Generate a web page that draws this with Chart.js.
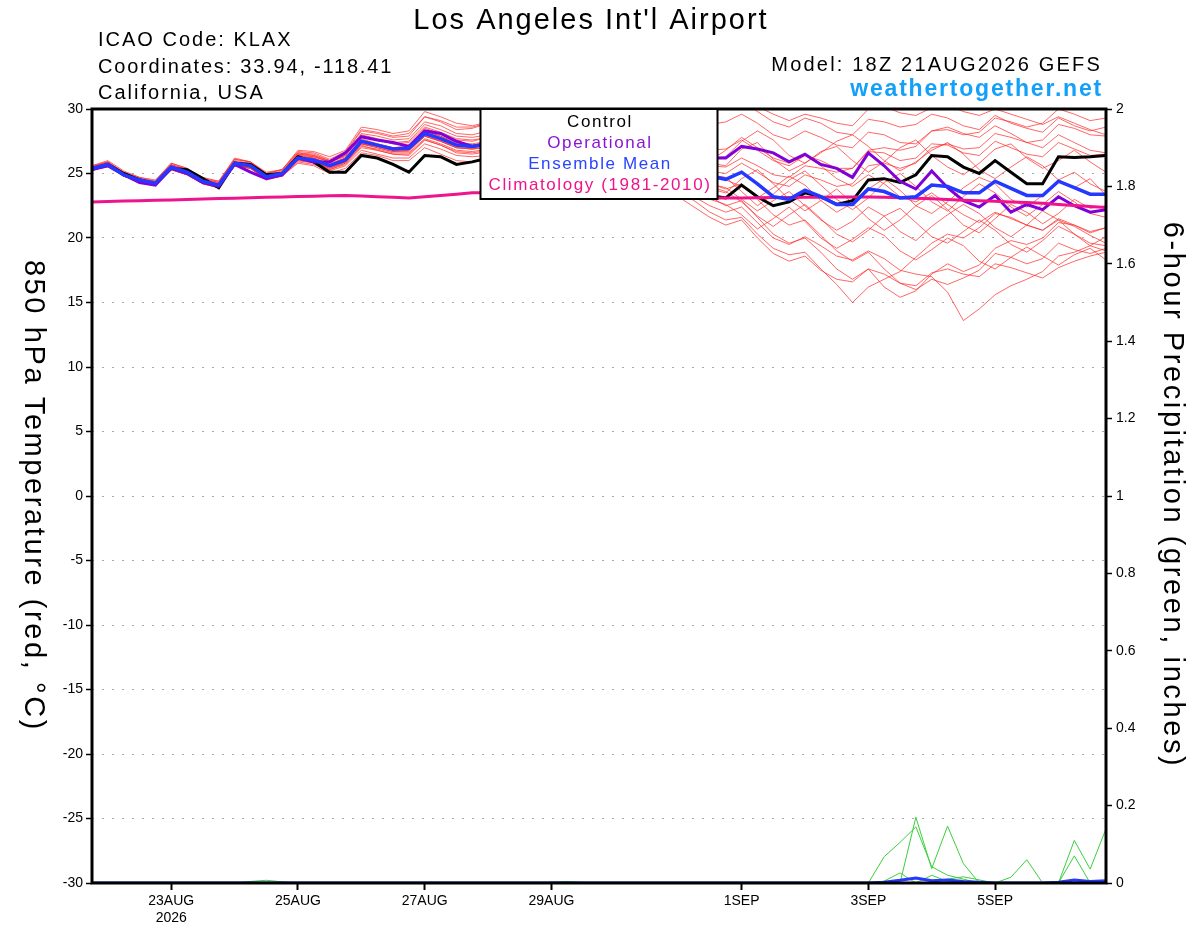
<!DOCTYPE html>
<html>
<head>
<meta charset="utf-8">
<title>KLAX GEFS 850 hPa Temperature</title>
<script src="https://cdn.jsdelivr.net/npm/chart.js@4.4.1/dist/chart.umd.min.js"></script>
<style>
  html, body { margin: 0; padding: 0; background: #fff; }
  canvas { display: block; }
</style>
</head>
<body>
<canvas id="meteogram" width="1200" height="927"></canvas>
<script>
// --- DATA (6-hourly from 18Z 21AUG2026, forecast hour = index * 6) ---
const STEP_HOURS = 6;
const tickHours = [30, 78, 126, 174, 246, 294, 342];
const tickLabels = [['23AUG', '2026'], '25AUG', '27AUG', '29AUG', '1SEP', '3SEP', '5SEP'];

const control = [
  25.3, 25.7, 25.0, 24.5, 24.2, 25.4, 25.3, 24.6, 23.9, 25.8, 25.7, 24.9, 25.0,
  26.3, 25.9, 25.1, 25.1, 26.4, 26.2, 25.7, 25.1, 26.4, 26.3, 25.7, 25.9,
  26.2, 26.6, 26.3, 27.0, 26.8, 26.0, 26.5, 25.8, 25.2, 24.6, 24.0, 23.5, 23.6, 23.6, 23.3,
  23.1, 24.1, 23.2, 22.5, 22.8, 23.5, 23.2, 22.6, 22.9, 24.5, 24.6, 24.3, 24.9,
  26.4, 26.3, 25.5, 25.0, 26.0, 25.1, 24.2, 24.2, 26.3, 26.25, 26.3, 26.4
];
const operational = [
  25.3, 25.6, 24.9, 24.3, 24.1, 25.4, 25.0, 24.3, 24.0, 25.7, 25.1, 24.6, 24.9,
  26.2, 25.9, 25.9, 26.6, 27.85, 27.6, 27.4, 27.1, 28.3, 28.1, 27.5, 27.1,
  27.3, 27.6, 28.2, 28.6, 28.0, 27.8, 28.3, 27.6, 27.0, 26.8, 27.2, 26.6, 26.4, 26.5, 26.2,
  26.2, 27.1, 26.9, 26.6, 25.9, 26.5, 25.7, 25.4, 24.7, 26.6, 25.6, 24.4, 23.8,
  25.2, 23.9, 22.9, 22.4, 23.3, 22.0, 22.6, 22.2, 23.2, 22.5, 22.0, 22.2
];
const ensMean = [
  25.4, 25.7, 24.9, 24.5, 24.25, 25.5, 25.1, 24.4, 24.1, 25.8, 25.6, 24.75, 25.0,
  26.2, 26.05, 25.6, 26.05, 27.5, 27.2, 26.9, 26.95, 28.1, 27.7, 27.2, 27.1,
  27.3, 27.6, 27.4, 28.0, 27.8, 27.2, 27.6, 27.0, 26.4, 26.0, 26.3, 25.8, 25.5, 25.2, 24.8,
  24.55, 25.1, 24.2, 23.2, 23.0, 23.7, 23.2, 22.6, 22.6, 23.8, 23.6, 23.1, 23.2,
  24.1, 24.0, 23.5, 23.5, 24.4, 23.85, 23.3, 23.3, 24.4, 23.9, 23.4, 23.4
];
const climatology = [
  22.80, 22.83, 22.86, 22.89, 22.92, 22.95, 22.98, 23.02, 23.06, 23.09, 23.12, 23.15, 23.18,
  23.21, 23.24, 23.27, 23.30, 23.25, 23.20, 23.15, 23.10, 23.20, 23.30, 23.40, 23.50,
  23.50, 23.48, 23.46, 23.44, 23.42, 23.40, 23.37, 23.34, 23.31, 23.28, 23.25, 23.22, 23.18, 23.14, 23.10,
  23.10, 23.11, 23.12, 23.13, 23.14, 23.15, 23.16, 23.17, 23.18, 23.18, 23.15, 23.12, 23.08,
  23.04, 22.98, 22.92, 22.88, 22.84, 22.80, 22.75, 22.70, 22.60, 22.52, 22.44, 22.36
];

// ensemble members, 850 hPa temperature (C)
const mem01 = [25.5,25.9,25.1,24.6,24.4,25.7,25.3,24.6,24.3,26.1,25.9,25.0,25.3,
  26.6,26.5,26.0,26.6,28.3,28.1,27.8,27.9,29.4,29.0,28.4,28.5,
  28.9,29.3,29.0,29.8,29.5,29.0,29.6,29.1,28.6,28.4,28.8,28.5,28.9,29.4,29.8,
  30.2,30.6,29.8,29.0,28.6,29.3,28.9,28.2,28.0,29.2,29.0,28.6,28.8,29.6,29.3,28.7,28.4,29.5,28.9,28.5,28.2,29.3,28.7,28.3,28.6];
const mem02 = [25.3,25.6,24.8,24.3,24.1,25.3,24.9,24.2,23.9,25.6,25.4,24.5,24.8,
  25.8,25.6,25.0,25.4,26.6,26.4,26.0,26.0,27.0,26.5,26.0,25.9,
  26.0,26.3,26.0,26.5,26.2,25.5,25.8,25.1,24.6,24.2,24.5,24.0,23.6,23.2,22.5,
  22.0,22.4,21.2,20.0,19.5,20.1,19.4,18.6,18.3,19.0,18.4,17.5,17.2,17.0,15.8,13.6,14.5,15.6,16.3,16.8,17.4,18.6,18.9,19.4,20.1];
const mem03 = [25.4,25.8,25.0,24.6,24.3,25.6,25.2,24.3,24.0,25.9,25.7,24.8,25.1,
  26.1,25.9,25.3,25.8,27.2,26.8,26.5,26.4,27.6,27.2,26.6,26.5,
  26.7,27.0,26.6,27.2,26.9,26.2,26.5,25.8,25.1,24.6,24.8,24.1,23.5,22.9,22.0,
  21.4,21.6,20.3,19.2,18.7,18.9,17.6,16.4,15.0,16.2,16.8,17.4,18.5,19.6,20.3,20.0,20.8,21.9,21.6,21.0,20.6,21.5,21.0,20.5,20.8];
const mem04 = [25.6,25.9,25.1,24.7,24.5,25.8,25.4,24.6,24.4,26.2,25.9,25.1,25.3,
  26.8,26.7,26.3,26.8,28.6,28.4,28.1,28.3,29.8,29.4,28.9,28.7,
  29.0,29.5,29.3,30.0,29.8,29.3,29.8,29.4,28.9,28.6,29.0,28.8,29.3,29.6,30.1,
  30.4,30.8,30.2,29.6,29.1,29.6,29.3,28.9,28.7,30.0,30.2,29.7,29.5,30.1,30.3,29.8,29.5,30.0,29.6,29.2,28.8,29.4,28.9,28.4,28.0];
const mem05 = [25.3,25.7,24.8,24.4,24.2,25.4,25.0,24.3,24.0,25.7,25.5,24.7,24.9,
  26.4,26.3,25.9,26.3,27.8,27.6,27.3,27.2,28.5,28.1,27.6,27.5,
  27.8,28.1,27.9,28.5,28.3,27.8,28.2,27.6,27.1,26.7,27.0,26.6,26.3,26.1,25.8,
  25.6,26.9,27.4,26.1,25.2,25.8,26.7,27.1,26.0,25.1,25.9,27.0,27.6,26.4,25.5,24.9,25.8,26.9,27.3,26.2,25.4,26.0,26.8,25.9,25.1];
const mem06 = [25.4,25.6,24.9,24.5,24.3,25.5,25.1,24.5,24.2,25.8,25.5,24.8,25.0,
  26.1,25.9,25.4,25.9,27.3,27.0,26.7,26.8,27.9,27.5,27.0,26.9,
  27.0,27.2,26.9,27.4,27.1,26.5,26.8,26.2,25.5,25.0,25.2,24.6,24.1,23.6,23.0,
  22.6,21.8,20.7,21.5,22.4,21.3,20.0,19.2,19.9,20.8,20.2,19.0,18.3,19.1,20.0,19.4,18.2,17.6,18.5,19.3,18.6,17.9,18.7,19.2,18.3];
const mem07 = [25.5,25.8,24.9,24.4,24.2,25.5,25.2,24.5,24.2,25.9,25.6,24.8,25.0,
  26.3,26.2,25.7,26.2,27.7,27.3,27.0,27.1,28.3,27.9,27.4,27.3,
  27.5,27.8,27.6,28.2,28.0,27.4,27.8,27.2,26.6,26.2,26.5,26.0,25.7,25.4,25.0,
  24.5,24.0,23.1,23.9,24.8,24.1,22.9,22.0,22.7,23.8,24.6,23.7,22.5,21.9,22.8,23.9,24.7,24.2,23.0,22.4,23.3,24.5,25.1,24.2,23.6];
const mem08 = [25.4,25.7,24.9,24.5,24.3,25.6,25.2,24.4,24.1,25.9,25.7,24.9,25.1,
  26.5,26.4,25.9,26.4,28.0,27.7,27.4,27.5,28.8,28.4,27.9,27.8,
  28.0,28.4,28.2,28.8,28.6,28.0,28.4,27.8,27.2,26.9,27.2,26.8,26.5,26.3,26.0,
  26.8,27.8,27.0,26.2,25.8,26.4,25.6,24.6,24.0,24.9,24.2,23.2,22.8,23.5,22.6,21.8,21.2,22.0,21.5,21.0,20.6,21.4,20.9,20.2,19.6];
const mem09 = [25.3,25.6,24.8,24.4,24.1,25.3,24.9,24.2,23.9,25.6,25.4,24.6,24.9,
  26.0,25.8,25.3,25.7,27.0,26.8,26.5,26.5,27.6,27.2,26.7,26.6,
  26.8,27.0,26.8,27.4,27.2,26.6,27.0,26.4,25.8,25.4,25.7,25.2,24.9,24.6,24.2,
  23.9,23.0,22.1,22.9,23.6,22.5,21.4,20.6,21.3,22.4,21.7,20.5,19.8,20.9,21.8,22.6,21.9,20.8,20.1,21.0,22.1,21.4,20.3,19.6,19.4];
const mem10 = [25.5,25.8,25.0,24.6,24.3,25.6,25.1,24.4,24.1,25.8,25.6,24.8,25.0,
  26.4,26.2,25.8,26.2,27.6,27.3,27.0,27.1,28.3,27.9,27.3,27.2,
  27.4,27.7,27.5,28.1,27.9,27.3,27.7,27.1,26.5,26.1,26.5,26.0,25.8,25.5,25.2,
  25.0,25.8,25.1,24.3,24.0,24.9,24.5,24.0,24.2,25.6,25.8,25.4,25.8,27.0,27.3,26.9,27.0,28.1,27.8,27.4,27.6,28.8,28.5,28.0,27.9];
const mem11 = [25.4,25.7,25.0,24.5,24.2,25.4,25.0,24.3,24.0,25.7,25.5,24.7,24.9,
  26.2,26.0,25.5,26.0,27.4,27.1,26.8,26.9,28.0,27.6,27.1,27.0,
  27.2,27.5,27.3,27.9,27.6,27.0,27.4,26.8,26.1,25.7,26.0,25.4,25.0,24.7,24.2,
  23.8,24.2,23.0,21.8,21.0,21.4,20.2,19.0,18.2,18.9,17.6,16.5,16.0,16.8,16.4,16.9,17.5,18.8,18.5,18.0,18.4,19.6,19.1,18.8,19.2];
const mem12 = [25.5,25.9,25.0,24.5,24.3,25.7,25.3,24.5,24.3,26.0,25.8,24.9,25.2,
  26.6,26.4,26.0,26.5,28.1,27.9,27.6,27.7,29.0,28.7,28.1,28.0,
  28.3,28.7,28.5,29.1,28.9,28.4,28.8,28.3,27.9,27.6,28.0,27.7,27.9,28.3,28.8,
  29.0,29.6,28.9,28.0,27.6,28.3,27.8,27.2,27.0,28.2,28.0,27.4,27.3,28.3,28.6,28.1,27.8,28.7,28.1,27.4,27.0,28.0,27.4,26.8,26.6];
const mem13 = [25.3,25.5,24.8,24.4,24.2,25.4,25.0,24.3,24.0,25.7,25.4,24.6,24.8,
  26.0,25.9,25.4,25.8,27.1,26.9,26.6,26.6,27.7,27.3,26.8,26.7,
  26.9,27.1,26.9,27.5,27.2,26.6,27.0,26.4,25.8,25.4,25.6,25.1,24.7,24.3,23.8,
  23.5,24.6,25.3,24.2,23.0,22.1,22.9,23.8,22.7,21.5,20.6,21.4,22.5,23.3,22.2,21.0,20.4,21.5,22.6,22.0,21.1,21.9,23.0,22.3,22.5];
const mem14 = [25.6,26.0,25.2,24.7,24.4,25.8,25.4,24.7,24.4,26.1,25.9,25.0,25.3,
  26.7,26.6,26.1,26.7,28.4,28.2,27.9,28.1,29.4,29.1,28.6,28.6,
  28.9,29.3,29.1,29.6,29.4,28.8,29.2,28.6,28.0,27.6,27.9,27.4,27.2,27.0,26.8,
  26.9,27.6,26.8,26.0,25.6,26.4,26.0,25.4,25.4,26.7,26.6,26.0,26.2,27.3,27.2,26.6,26.4,27.5,27.0,26.5,26.3,27.4,26.9,26.4,26.5];
const mem15 = [25.3,25.6,24.8,24.3,24.1,25.3,24.9,24.2,23.9,25.6,25.4,24.6,24.8,
  25.9,25.7,25.2,25.6,26.8,26.5,26.2,26.2,27.3,26.9,26.4,26.3,
  26.4,26.7,26.4,26.9,26.6,25.9,26.2,25.5,24.7,24.1,24.2,23.6,23.2,22.4,21.6,
  21.0,21.4,20.0,18.8,18.2,18.6,17.5,16.8,16.6,17.6,17.2,16.5,16.3,17.3,17.6,17.2,17.0,18.0,17.7,17.3,16.9,17.7,18.2,18.6,18.9];
const mem16 = [25.4,25.7,24.9,24.5,24.2,25.5,25.1,24.4,24.1,25.8,25.6,24.7,25.0,
  26.2,26.0,25.6,26.0,27.5,27.2,26.9,26.9,28.1,27.7,27.2,27.1,
  27.3,27.6,27.4,28.0,27.8,27.2,27.6,27.0,26.4,26.0,26.3,25.8,25.5,25.2,24.9,
  24.7,23.6,22.5,23.4,24.5,25.2,24.1,23.0,22.2,23.1,24.3,25.0,24.0,22.8,22.1,23.2,24.2,23.5,22.4,21.7,22.6,23.6,22.8,21.9,21.6];
const mem17 = [25.4,25.8,25.0,24.5,24.3,25.5,25.1,24.4,24.1,25.8,25.6,24.8,25.0,
  26.3,26.1,25.6,26.1,27.5,27.2,26.9,27.0,28.2,27.8,27.3,27.2,
  27.4,27.7,27.5,28.1,27.9,27.3,27.7,27.1,26.5,26.2,26.6,26.2,26.0,25.8,25.6,
  25.5,26.2,25.6,24.9,24.7,25.6,25.4,25.1,25.4,26.8,27.0,26.8,27.1,28.3,28.4,28.0,28.2,29.3,29.0,28.6,28.9,30.0,29.6,29.1,29.3];
const mem18 = [25.3,25.6,24.8,24.4,24.2,25.4,25.0,24.3,24.0,25.7,25.5,24.7,24.9,
  26.1,25.9,25.5,25.9,27.3,27.0,26.7,26.7,27.9,27.5,27.0,26.9,
  27.1,27.4,27.1,27.7,27.4,26.8,27.2,26.6,25.9,25.4,25.6,25.0,24.5,23.9,23.2,
  22.5,22.9,21.6,20.3,19.6,20.0,18.9,17.6,16.8,17.6,16.2,15.4,15.9,17.2,18.0,17.4,17.9,19.2,19.8,19.5,20.0,21.2,21.0,20.4,20.8];
const mem19 = [25.5,25.7,25.0,24.6,24.3,25.6,25.2,24.5,24.2,25.9,25.7,24.9,25.1,
  26.5,26.3,25.9,26.4,27.9,27.6,27.3,27.4,28.6,28.2,27.7,27.6,
  27.8,28.2,28.0,28.6,28.4,27.8,28.2,27.6,27.1,26.8,27.1,26.7,26.5,26.3,26.2,
  26.3,27.5,28.3,27.6,26.4,25.8,26.6,27.5,28.0,27.1,26.0,25.2,25.9,26.8,27.4,26.5,25.3,24.6,25.5,26.3,25.6,24.5,23.9,24.6,23.3];
const mem20 = [25.4,25.6,24.9,24.4,24.2,25.4,25.1,24.4,24.1,25.7,25.5,24.7,25.0,
  26.1,26.0,25.5,25.9,27.3,27.1,26.8,26.8,27.9,27.5,27.0,26.9,
  27.1,27.3,27.1,27.7,27.5,26.9,27.3,26.7,26.0,25.6,25.9,25.3,24.9,24.5,24.0,
  23.6,22.8,21.7,20.9,21.8,22.6,21.5,20.3,19.7,20.6,21.7,22.3,21.2,20.1,19.6,20.5,21.4,20.6,19.5,18.9,19.8,20.9,20.3,19.4,19.0];

// 6-hour precipitation (inches), members that show any rain
const prcp01 = [0,0,0,0,0,0,0,0,0,0,0,0,0, 0,0,0,0,0,0,0,0,0,0,0,0,0, 0,0,0,0,0,0,0,0,0,0,0,0,0,
  0,0,0,0,0,0,0,0,0,0,0,0.068,0.105, 0.145,0.042,0.02,0.01,0,0,0,0,0,0,0,0,0];
const prcp02 = [0,0,0,0,0,0,0,0,0,0,0,0,0, 0,0,0,0,0,0,0,0,0,0,0,0,0, 0,0,0,0,0,0,0,0,0,0,0,0,0,
  0,0,0,0,0,0,0,0,0,0,0,0,0, 0.17,0.037,0.147,0.05,0,0,0,0,0,0,0,0,0];
const prcp03 = [0,0,0,0,0,0,0,0,0,0,0,0,0, 0,0,0,0,0,0,0,0,0,0,0,0,0, 0,0,0,0,0,0,0,0,0,0,0,0,0,
  0,0,0,0,0,0,0,0,0,0,0,0.005,0.026, 0,0.02,0.004,0,0,0,0,0,0,0,0,0,0];
const prcp04 = [0,0,0,0,0,0,0,0,0,0,0,0,0, 0,0,0,0,0,0,0,0,0,0,0,0,0, 0,0,0,0,0,0,0,0,0,0,0,0,0,
  0,0,0,0,0,0,0,0,0,0,0,0,0, 0,0,0.01,0.016,0.008,0,0,0,0,0,0,0,0];
const prcp05 = [0,0,0,0,0,0,0,0,0,0,0,0,0, 0,0,0,0,0,0,0,0,0,0,0,0,0, 0,0,0,0,0,0,0,0,0,0,0,0,0,
  0,0,0,0,0,0,0,0,0,0,0,0,0, 0,0,0,0,0,0,0.015,0.06,0,0,0,0,0];
const prcp06 = [0,0,0,0,0,0,0,0,0,0,0,0,0, 0,0,0,0,0,0,0,0,0,0,0,0,0, 0,0,0,0,0,0,0,0,0,0,0,0,0,
  0,0,0,0,0,0,0,0,0,0,0,0,0, 0,0,0,0,0,0,0,0,0,0,0.11,0.036,0.14];
const prcp07 = [0,0,0,0,0,0,0,0,0,0,0,0,0, 0,0,0,0,0,0,0,0,0,0,0,0,0, 0,0,0,0,0,0,0,0,0,0,0,0,0,
  0,0,0,0,0,0,0,0,0,0,0,0,0, 0,0,0,0,0,0,0,0,0,0,0.07,0,0];
const prcp08 = [0,0,0,0,0,0,0,0,0,0,0.004,0.007,0.003, 0,0,0,0,0,0,0,0,0,0,0,0,0, 0,0,0,0.002,0.004,0.001,0,0,0,0,0,0,0,
  0,0,0,0,0,0,0,0,0,0,0,0,0, 0,0,0,0,0,0,0,0,0,0,0,0,0];
const prcpMean = [0,0,0,0,0,0,0,0,0,0,0,0,0, 0,0,0,0,0,0,0,0,0,0,0,0,0, 0,0,0,0,0,0,0,0,0,0,0,0,0,
  0,0,0,0,0,0,0,0,0,0,0,0.002,0.007, 0.013,0.006,0.008,0.004,0.002,0,0,0,0,0.002,0.008,0.004,0.006];

const members = [mem01, mem02, mem03, mem04, mem05, mem06, mem07, mem08, mem09, mem10,
  mem11, mem12, mem13, mem14, mem15, mem16, mem17, mem18, mem19, mem20];
const memberPrcp = [prcp01, prcp02, prcp03, prcp04, prcp05, prcp06, prcp07, prcp08];

// --- CHART ---
const FONT = "'Liberation Sans', Arial, Helvetica, sans-serif";
Chart.defaults.font.family = FONT;
Chart.defaults.color = '#000';

const toPts = vals => vals.map((v, i) => ({ x: i * STEP_HOURS, y: v }));
const line = (data, color, width, order, axis) => ({
  data: toPts(data), borderColor: color, borderWidth: width, order: order,
  yAxisID: axis || 'y', pointRadius: 0, tension: 0, fill: false, clip: 0
});

const datasets = [
  line(ensMean, '#2438ff', 3.5, 0),
  line(climatology, '#f0148c', 3, 1),
  line(operational, '#8000d8', 3, 2),
  line(control, '#000000', 3, 3),
  line(prcpMean, '#2438ff', 3, 4, 'y2')
];
memberPrcp.forEach(p => datasets.push(line(p, '#3ccf3c', 1, 5, 'y2')));
members.forEach(m => datasets.push(line(m, 'rgba(255,45,45,0.72)', 1, 6)));

function drawText(ctx, str, x, y, size, opts) {
  opts = opts || {};
  ctx.font = (opts.bold ? 'bold ' : '') + size + 'px ' + FONT;
  ctx.fillStyle = opts.color || '#000';
  ctx.textAlign = opts.align || 'left';
  ctx.textBaseline = opts.baseline || 'alphabetic';
  ctx.letterSpacing = (opts.spacing || 0) + 'px';
  ctx.fillText(str, x, y);
}

const decor = {
  id: 'decor',
  afterDatasetsDraw(chart) {
    const { ctx, chartArea: a } = chart;
    ctx.save();
    // plot frame
    ctx.strokeStyle = '#000';
    ctx.lineWidth = 3;
    ctx.strokeRect(a.left, a.top, a.right - a.left, a.bottom - a.top);

    // legend box (sits over the data like the original)
    const cx = (a.left + a.right) / 2;
    const bw = 237, bh = 90;
    ctx.fillStyle = '#fff';
    ctx.fillRect(cx - bw / 2, a.top, bw, bh);
    ctx.lineWidth = 2;
    ctx.strokeRect(cx - bw / 2, a.top, bw, bh);
    const items = [
      ['Control', '#000'],
      ['Operational', '#8a14d6'],
      ['Ensemble Mean', '#2a44ff'],
      ['Climatology (1981-2010)', '#f0148c']
    ];
    items.forEach((it, k) => {
      drawText(ctx, it[0], cx + 1, a.top + 18 + k * 21, 17, { color: it[1], align: 'center', spacing: 1.6 });
    });
    ctx.restore();
  },
  afterDraw(chart) {
    const ctx = chart.ctx;
    ctx.save();
    drawText(ctx, "Los Angeles Int'l Airport", 591, 29, 29, { align: 'center', spacing: 2 });
    drawText(ctx, 'ICAO Code: KLAX', 98, 46, 20, { spacing: 2 });
    drawText(ctx, 'Coordinates: 33.94, -118.41', 98, 73, 20, { spacing: 1.8 });
    drawText(ctx, 'California, USA', 98, 99, 20, { spacing: 2 });
    drawText(ctx, 'Model: 18Z 21AUG2026 GEFS', 1102, 71, 20, { align: 'right', spacing: 2.2 });
    drawText(ctx, 'weathertogether.net', 1103, 96, 23, { align: 'right', bold: true, color: '#12a0f8', spacing: 1.8 });

    // axis titles, both read top to bottom
    ctx.save();
    ctx.translate(33, 496);
    ctx.rotate(Math.PI / 2);
    drawText(ctx, '850 hPa Temperature (red, \u00B0C)', 0, 0, 29, { align: 'center', baseline: 'middle', spacing: 2.6 });
    ctx.restore();
    ctx.save();
    ctx.translate(1172, 495);
    ctx.rotate(Math.PI / 2);
    drawText(ctx, '6-hour Precipitation (green, inches)', 0, 0, 29, { align: 'center', baseline: 'middle', spacing: 2.6 });
    ctx.restore();
    ctx.restore();
  }
};

new Chart(document.getElementById('meteogram'), {
  type: 'line',
  data: { datasets: datasets },
  options: {
    responsive: false,
    animation: false,
    devicePixelRatio: 1,
    layout: { padding: { top: 109, left: 0, right: 0, bottom: 0 } },
    plugins: { legend: { display: false }, tooltip: { enabled: false } },
    scales: {
      x: {
        type: 'linear', min: 0, max: 384,
        afterBuildTicks: s => { s.ticks = tickHours.map(v => ({ value: v })); },
        afterFit: s => { s.height = 44; },
        ticks: {
          autoSkip: false, maxRotation: 0, padding: 3, font: { size: 14 }, color: '#000',
          callback: v => tickLabels[tickHours.indexOf(v)]
        },
        grid: { drawOnChartArea: false, tickLength: 7, tickColor: '#000', tickWidth: 2 },
        border: { display: false }
      },
      y: {
        position: 'left', min: -30, max: 30,
        afterFit: s => { s.width = 92; },
        ticks: { stepSize: 5, padding: 3, font: { size: 14 }, color: '#000' },
        grid: { color: '#a9a9a9', lineWidth: 1, tickLength: 6, tickColor: '#000', tickWidth: 1.5 },
        border: { display: false, dash: [2, 8] }
      },
      y2: {
        position: 'right', min: 0, max: 2,
        afterFit: s => { s.width = 94; },
        ticks: {
          stepSize: 0.2, padding: 4, font: { size: 14 }, color: '#000',
          callback: v => String(+v.toFixed(1))
        },
        grid: { drawOnChartArea: false, tickLength: 6, tickColor: '#000', tickWidth: 1.5 },
        border: { display: false }
      }
    }
  },
  plugins: [decor]
});
</script>
</body>
</html>
